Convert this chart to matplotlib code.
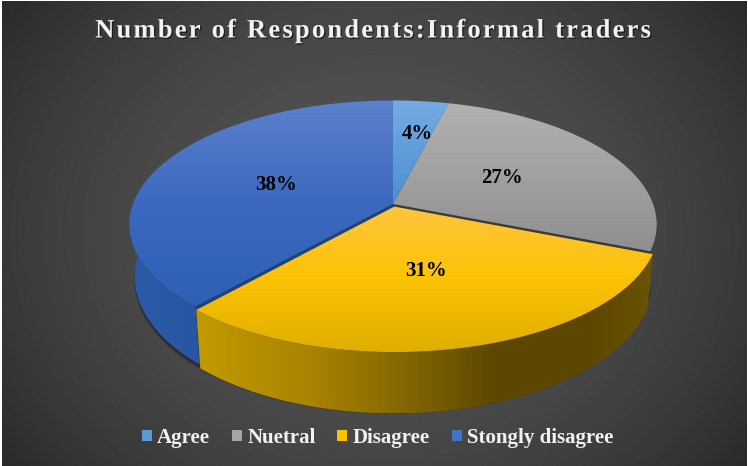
#!/usr/bin/env python
# Perspective 3D pie: Number of Respondents, informal traders
import numpy as np
import matplotlib
matplotlib.use('Agg')
import matplotlib.pyplot as plt
from matplotlib.patches import Polygon, Patch
import matplotlib.patheffects as pe

#==============================================================================#
# Data
#==============================================================================#
title = 'Number of Respondents:Informal traders'
categories = ['Agree', 'Nuetral', 'Disagree', 'Stongly disagree']
shares = [4, 27, 30.6, 38.4]

legend_colors = ['#5b9bd5', '#a5a5a5', '#ffc000', '#4472c4']
top_stops = [('#74ace3', '#4a8fd2'), ('#b2b2b2', '#8f8f8f'),
             ('#ffc53f', '#fcc304', '#dfae00'), ('#5c80cb', '#3c69bf', '#2e60b6')]
wall_stops = [None, ('#555555', '#555555'), None, ('#2b5ba8', '#21498f')]
cut_colors = ['#2a5c90', '#3a3a3a', '#8a6b00', '#1f4278']
label_radius = [0.65, 0.5, 0.5, 0.5]
label_shift = [(5, 0), (-3, 0), (-1, 0), (1, 2)]
explode = [0, 0, 0.022, 0]

#==============================================================================#
# Geometry of the tilted disc, image pixels
#==============================================================================#
W, H = 748, 466
cx, cy = 393, 204
sx, sy = 260, 120.6
k = 0.1647
depth = 51
shrink = 0.98


def project(r, theta, offset=(0, 0), drop=False):
    u = r * np.sin(np.radians(theta)) + offset[0]
    v = r * np.cos(np.radians(theta)) + offset[1]
    w = 1 + k * v
    x = cx + sx * u / w
    y = cy - sy * v / w
    if drop:
        x = cx + (x - cx) * shrink
        y = y + depth / w
    return np.column_stack([x, y])


def gradient_fill(ax, pts, stops, vertical=True, zorder=2):
    poly = Polygon(pts, closed=True, fc='none', ec='none', transform=ax.transData)
    ax.add_patch(poly)
    cols = np.array([matplotlib.colors.to_rgb(c) for c in stops])
    t = np.linspace(0, 1, 256)
    pos = np.linspace(0, 1, len(stops))
    grad = np.stack([np.interp(t, pos, cols[:, c]) for c in range(3)], axis=-1)
    x0, y0 = pts.min(axis=0)
    x1, y1 = pts.max(axis=0)
    if vertical:
        img = grad[:, None, :]
    else:
        img = grad[None, :, :]
    im = ax.imshow(img, extent=[x0, x1, y1, y0], aspect='auto', zorder=zorder,
                   interpolation='bilinear')
    im.set_clip_path(poly)


fig = plt.figure(figsize=(W / 100, H / 100), dpi=100, facecolor='white')
ax = fig.add_axes([0, 0, 1, 1])
ax.set_axis_off()

#==============================================================================#
# Background: radial grey
#==============================================================================#
yy, xx = np.mgrid[0:H, 0:W]
dist = np.hypot((xx - 374) / 480.0, (yy - 233) / 400.0)
shade = np.clip(0.325 - 0.17 * dist ** 2, 0.15, 1)
ax.imshow(shade, cmap='gray', vmin=0, vmax=1, extent=[2, 747, 466, 1], aspect='auto', zorder=0)

#==============================================================================#
# Slices
#==============================================================================#
edges = np.cumsum([0] + shares) * 3.6
thetas = [np.linspace(edges[i], edges[i + 1], 120) for i in range(len(shares))]
mids = (edges[:-1] + edges[1:]) / 2
offsets = [(e * np.sin(np.radians(m)), e * np.cos(np.radians(m))) for e, m in zip(explode, mids)]

# soft shadow under the pie
rim = project(1, np.linspace(0, 360, 360), drop=True)
for i in range(1, 7):
    ax.add_patch(Polygon(rim + [0, i * 0.8], closed=True, fc='black', ec='none', alpha=0.09, zorder=1))

# side walls
for i in [3, 1]:
    top = project(1, thetas[i], offsets[i])
    low = project(1, thetas[i], offsets[i], drop=True)
    gradient_fill(ax, np.vstack([top, low[::-1]]), wall_stops[i], vertical=False)

# cut faces seen through the gap left by the exploded slice
for i, edge in [(3, edges[3]), (1, edges[2])]:
    apex = project(0, np.array([edge]))
    apex_low = project(0, np.array([edge]), drop=True)
    out = project(1, np.array([edge]))
    out_low = project(1, np.array([edge]), drop=True)
    ax.add_patch(Polygon(np.vstack([apex, out, out_low, apex_low]), closed=True,
                         fc=cut_colors[i], ec='none', zorder=2))

# wall of the front slice, several stops from left to right
i = 2
top = project(1, thetas[i], offsets[i])
low = project(1, thetas[i], offsets[i], drop=True)
poly = Polygon(np.vstack([top, low[::-1]]), closed=True, fc='none', ec='none')
ax.add_patch(poly)
pos = np.array([0, 0.25, 0.42, 0.65, 0.85, 1])
cols = np.array([matplotlib.colors.to_rgb(c) for c in
                 ['#c29a00', '#a88400', '#8a6c00', '#5e4700', '#5c4600', '#6a5300']])
t = np.linspace(0, 1, 400)
strip = np.stack([np.interp(t, pos, cols[:, c]) for c in range(3)], axis=-1)[None, :, :]
im = ax.imshow(strip, extent=[top[:, 0].min(), top[:, 0].max(), low[:, 1].max(), top[:, 1].min()],
               aspect='auto', zorder=3)
im.set_clip_path(poly)

# top faces
for i in range(len(shares)):
    arc = project(1, thetas[i], offsets[i])
    apex = project(0, np.array([0.0]), offsets[i])
    pts = np.vstack([apex, arc])
    gradient_fill(ax, pts, top_stops[i], zorder=4)

# data labels
for i in range(len(shares)):
    pos_xy = project(label_radius[i], np.array([mids[i]]), offsets[i])[0]
    ax.text(pos_xy[0] + label_shift[i][0], pos_xy[1] + label_shift[i][1], '%.0f%%' % shares[i],
            ha='center', va='center', color='black',
            fontsize=15, fontweight='bold', family='Liberation Serif', zorder=5)

ax.set_xlim(0, W)
ax.set_ylim(H, 0)

#==============================================================================#
# Title and legend (hair spaces give the wide letter spacing of the original)
#==============================================================================#
ax.text(373.5, 31, '\u200a'.join(title), ha='center', va='center', color='#f2f2f2', fontsize=19.1,
        fontweight='bold', family='Liberation Serif', zorder=6,
        path_effects=[pe.withSimplePatchShadow(offset=(1, -1), shadow_rgbFace='black', alpha=0.5)])

handles = [Patch(fc=c, ec='none') for c in legend_colors]
ax.legend(handles, categories, ncol=4, loc='center', bbox_to_anchor=(377.5 / W, 1 - 438 / H),
          frameon=False, labelcolor='#f2f2f2', handlelength=0.48, handleheight=0.48,
          handletextpad=0.25, columnspacing=1.05,
          prop={'family': 'Liberation Serif', 'weight': 'bold', 'size': 15})

fig.savefig('out.png', dpi=100)
